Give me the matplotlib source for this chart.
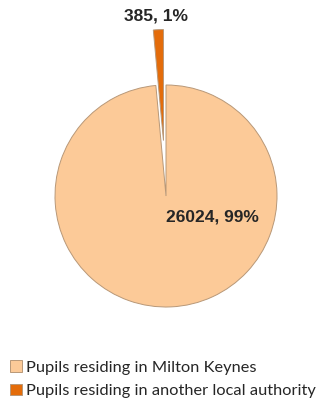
import matplotlib
matplotlib.use("Agg")
import matplotlib.pyplot as plt

# Data
categories = ["Pupils residing in Milton Keynes", "Pupils residing in another local authority"]
counts = [26024, 385]
colors = ["#FCCA98", "#E46C0A"]
explode = [0, 0.5]

total = sum(counts)
labels = [f"{c}, {c / total * 100:.0f}%" for c in counts]

fig = plt.figure(figsize=(3.23, 4.08), dpi=100)
ax = fig.add_axes([0, 0, 1, 1])

wedges, _ = ax.pie(counts, colors=colors, explode=explode, startangle=90,
                   counterclock=False, radius=1,
                   wedgeprops=dict(edgecolor="#B89878", linewidth=0.7))

# pie centre at (166, 196) px, radius 111 px
ax.set_aspect("auto")
ax.set_xlim(-166 / 111, (323 - 166) / 111)
ax.set_ylim(-(408 - 196) / 111, 196 / 111)
ax.axis("off")

ax.text(-0.09, 1.62, labels[1], ha="center", va="center", fontsize=12.5,
        fontweight="bold", family="Liberation Sans", color="#262626")
ax.text(0.0, -0.19, labels[0], ha="left", va="center", fontsize=12.5,
        fontweight="bold", family="Liberation Sans", color="#262626")

leg = ax.legend(wedges, categories, loc="upper left", bbox_to_anchor=(0.012, 0.133),
                frameon=False, handlelength=0.68, handleheight=0.68,
                handletextpad=0.3, labelspacing=0.55, borderaxespad=0,
                prop=dict(family="Lato", size=11.8))
for t in leg.get_texts():
    t.set_color("#262626")

fig.savefig("out.png", dpi=100)
